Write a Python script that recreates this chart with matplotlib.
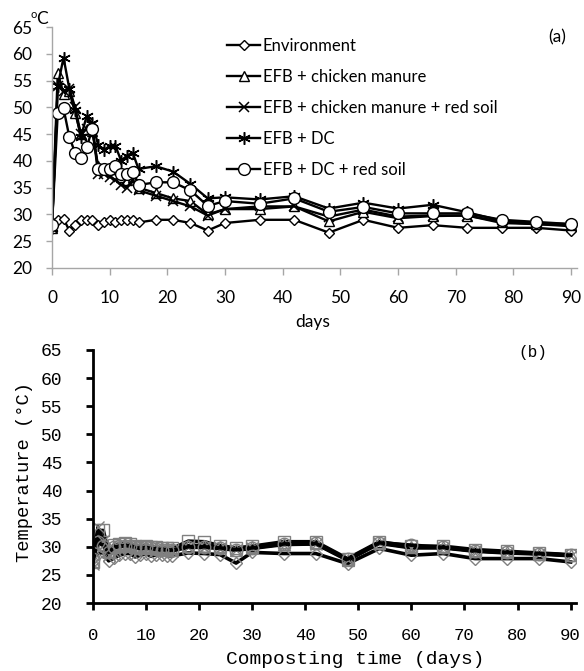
import matplotlib
matplotlib.use("Agg")
import matplotlib.pyplot as plt

days = [0, 1, 2, 3, 4, 5, 6, 7, 8, 9, 10, 11, 12, 13, 14, 15,
        18, 21, 24, 27, 30, 36, 42, 48, 54, 60, 66, 72, 78, 84, 90]

# panel (a)
env_a = [28.5, 29.0, 29.2, 27.0, 28.0, 29.0, 29.0, 29.0, 28.0, 28.5, 29.0, 28.5, 29.0, 29.0, 29.0, 28.5,
         29.0, 29.0, 28.4, 27.0, 28.4, 29.0, 29.0, 26.6, 29.0, 27.5, 28.0, 27.5, 27.5, 27.5, 27.0]
cm_a = [27.5, 56.5, 52.5, 53.0, 49.0, 45.0, 46.0, 45.5, 39.0, 38.5, 38.5, 38.5, 37.0, 36.5, 37.0, 35.0,
        34.0, 33.0, 32.5, 30.0, 31.0, 31.0, 31.5, 28.7, 30.5, 29.3, 29.7, 29.8, 28.6, 28.2, 28.0]
cm_rs_a = [27.5, 54.0, 53.0, 53.5, 50.0, 45.0, 46.0, 46.5, 37.5, 37.5, 37.0, 36.5, 35.5, 35.0, 36.5, 34.5,
           33.5, 32.5, 31.5, 29.8, 31.0, 31.5, 31.5, 29.6, 30.9, 29.6, 29.8, 29.8, 28.4, 28.2, 27.8]
dc_a = [27.5, 54.0, 59.3, 53.5, 49.5, 44.5, 48.3, 47.0, 43.0, 42.0, 42.8, 42.8, 40.0, 41.0, 41.5, 38.5,
        39.0, 38.0, 35.7, 33.0, 33.2, 32.8, 33.4, 31.1, 32.2, 31.1, 31.8, 30.4, 28.8, 28.4, 28.2]
dc_rs_a = [28.0, 49.0, 49.8, 44.5, 41.5, 40.5, 42.5, 46.0, 38.5, 38.5, 38.5, 39.0, 37.5, 37.5, 38.0, 35.5,
           36.0, 36.0, 34.5, 31.6, 32.5, 32.0, 33.0, 30.5, 31.4, 30.2, 30.2, 30.2, 29.0, 28.6, 28.2]

labels_a = ["Environment", "EFB + chicken manure", "EFB + chicken manure + red soil",
            "EFB + DC", "EFB + DC + red soil"]

# panel (b)
env_b = [28.0, 28.8, 29.0, 27.5, 28.0, 28.5, 28.8, 28.8, 28.2, 28.5, 28.8, 28.3, 28.6, 28.6, 28.4, 28.4,
         28.9, 28.8, 28.6, 27.1, 29.0, 28.8, 28.8, 27.0, 29.7, 28.5, 28.8, 27.9, 27.9, 27.9, 27.3]
sq_b = [27.3, 32.9, 32.9, 29.0, 30.3, 30.5, 30.6, 30.5, 30.2, 30.0, 30.2, 30.0, 29.9, 29.8, 29.8, 29.7,
        31.0, 30.9, 30.2, 29.8, 30.1, 30.9, 30.9, 27.9, 30.9, 30.1, 30.1, 29.5, 29.2, 28.9, 28.6]
tri_b = [27.5, 31.5, 30.5, 29.2, 30.0, 30.2, 30.3, 30.4, 30.0, 29.8, 30.0, 29.8, 29.7, 29.6, 29.6, 29.5,
         30.2, 30.2, 29.9, 29.5, 29.9, 30.5, 30.6, 27.7, 30.7, 29.9, 29.9, 29.3, 29.0, 28.8, 28.5]
x_b = [27.0, 33.5, 31.0, 28.5, 29.8, 30.0, 30.2, 30.1, 29.9, 29.6, 29.8, 29.6, 29.5, 29.4, 29.4, 29.3,
       29.9, 29.9, 29.7, 29.4, 29.7, 30.4, 30.5, 27.6, 30.6, 29.8, 29.8, 29.2, 28.9, 28.7, 28.4]
circ_b = [27.8, 30.8, 30.2, 29.0, 29.9, 30.1, 30.2, 30.2, 29.9, 29.7, 29.9, 29.7, 29.6, 29.5, 29.5, 29.4,
          30.0, 30.0, 29.8, 29.5, 29.8, 30.5, 30.6, 27.8, 30.7, 30.3, 29.9, 29.3, 29.0, 28.8, 28.5]

yticks = [20, 25, 30, 35, 40, 45, 50, 55, 60, 65]
xticks = [0, 10, 20, 30, 40, 50, 60, 70, 80, 90]

W, H = 584, 671
fig = plt.figure(figsize=(W / 100, H / 100), dpi=100)


def box(x0, y0, x1, y1):
    return [x0 / W, 1 - y1 / H, (x1 - x0) / W, (y1 - y0) / H]


# ---------------- panel (a) ----------------
sans = "Lato"
ax1 = fig.add_axes(box(52, 27, 52 + 91 * 5.767, 268))
mk = [dict(marker="D", ms=5.6), dict(marker="^", ms=7.5), dict(marker="x", ms=7.5, mew=1.1),
      dict(marker=(6, 2, 0), ms=9, mew=1.1), dict(marker="o", ms=8.5)]
for ys, lab, m in zip([env_a, cm_a, cm_rs_a, dc_a, dc_rs_a], labels_a, mk):
    ax1.plot(days, ys, color="black", lw=1.7, mfc="white", mec="black", label=lab, **m)
ax1.set_xlim(0, 91)
ax1.set_ylim(20, 65)
ax1.set_xticks(xticks)
ax1.set_yticks(yticks)
for s in ["top", "right"]:
    ax1.spines[s].set_visible(False)
for s in ["left", "bottom"]:
    ax1.spines[s].set_color("#a6a6a6")
    ax1.spines[s].set_linewidth(1.0)
ax1.tick_params(axis="both", colors="#a6a6a6", length=4, width=1.0, labelcolor="black",
                labelsize=12.5, labelfontfamily=sans)
ax1.tick_params(axis="y", pad=10)
ax1.tick_params(axis="x", length=5, pad=11)
fig.text(313 / W, 1 - 322 / H, "days", fontsize=12.5, family=sans, va="center", ha="center")
fig.text(34 / W, 1 - 14 / H, "o", fontsize=8, family=sans, va="center", ha="center")
fig.text(42 / W, 1 - 19 / H, "C", fontsize=12.5, family=sans, va="center", ha="center")
fig.text(557 / W, 1 - 37 / H, "(a)", fontsize=12.5, family=sans, va="center", ha="center")
ax1.legend(loc="upper left", bbox_to_anchor=(227 / W, 1 - 38 / H), bbox_transform=fig.transFigure,
           frameon=False, borderpad=0, borderaxespad=0, handlelength=2.0, handletextpad=0.15,
           labelspacing=0.9, prop={"family": sans, "size": 12})

# ---------------- panel (b) ----------------
mono = "Liberation Mono"
ax2 = fig.add_axes(box(92.7, 350, 92.7 + 91 * 5.31, 603))
mk_b = [dict(marker="D", ms=6.5), dict(marker="s", ms=9), dict(marker="^", ms=9),
        dict(marker="x", ms=9), dict(marker="o", ms=9)]
for ys, m in zip([env_b, sq_b, tri_b, x_b, circ_b], mk_b):
    ax2.plot(days, ys, color="black", lw=2.6, mfc="none", mec="0.5", mew=1.0, **m)
ax2.set_xlim(0, 91)
ax2.set_ylim(20, 65)
ax2.set_xticks(xticks)
ax2.set_yticks(yticks)
for s in ["top", "right"]:
    ax2.spines[s].set_visible(False)
for s in ["left", "bottom"]:
    ax2.spines[s].set_linewidth(2.0)
ax2.tick_params(axis="both", length=5, width=2.0, labelsize=13, labelfontfamily=mono)
ax2.tick_params(axis="y", pad=17)
ax2.tick_params(axis="x", pad=13, labelsize=12.5)
fig.text(355 / W, 1 - 660 / H, "Composting time (days)", fontsize=14, family=mono,
         va="center", ha="center")
fig.text(24.5 / W, 1 - 472 / H, "Temperature (\u00b0C)", fontsize=13.5, family=mono,
         va="center", ha="center", rotation=90)
fig.text(533 / W, 1 - 353 / H, "(b)", fontsize=11.5, family=mono, va="center", ha="center")

fig.savefig("out.png", dpi=100)
